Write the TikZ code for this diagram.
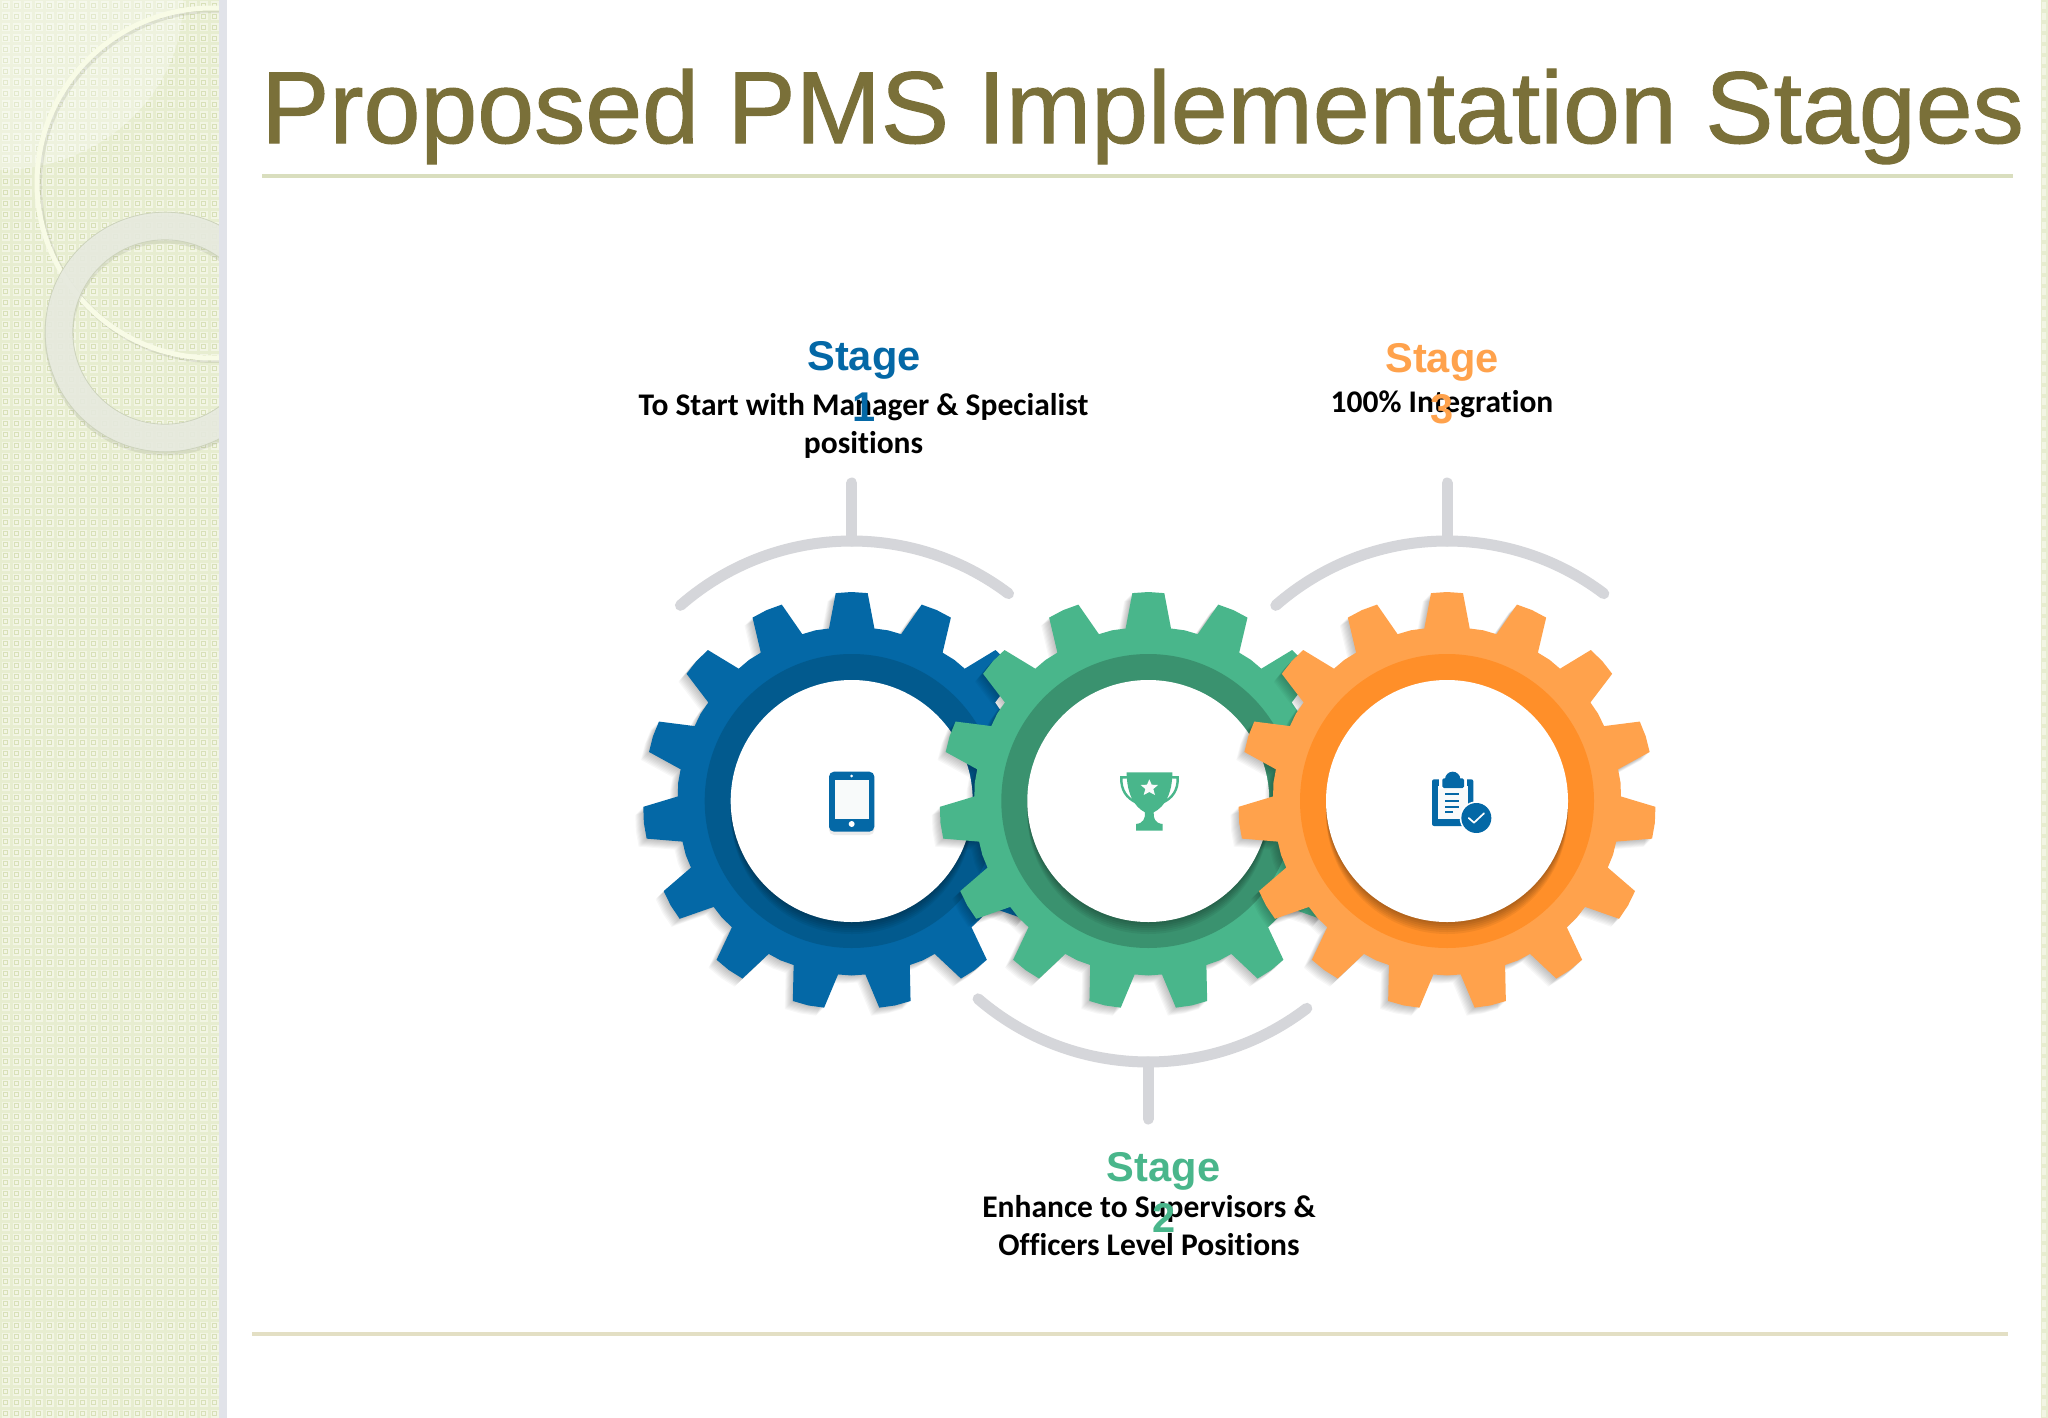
\documentclass[tikz,border=0pt]{standalone}
\usepackage{fontspec}
\setmainfont{Liberation Sans}
\newfontfamily\descfont[Ligatures=NoCommon]{Carlito}
\newfontfamily\titlefont[FakeBold=1]{Liberation Sans}
\usetikzlibrary{calc}
\definecolor{bluegear}{HTML}{0468A6}
\definecolor{bluering}{HTML}{025A8E}
\definecolor{greengear}{HTML}{49B68B}
\definecolor{greenring}{HTML}{3A926F}
\definecolor{orangegear}{HTML}{FFA24C}
\definecolor{orangering}{HTML}{FF8F29}
\definecolor{armgrey}{HTML}{D5D6DA}
\definecolor{titlecol}{HTML}{7A7039}
\definecolor{panelbase}{HTML}{E7EDD0}
\definecolor{panellight}{HTML}{F2F5E4}
\definecolor{paneldark}{HTML}{D8E0B8}
\definecolor{palering}{HTML}{F8FBE6}
\definecolor{greyring}{HTML}{E8EBE0}
\definecolor{greyedge}{HTML}{CDD3BC}
\definecolor{stripgrey}{HTML}{E1E3E9}
\definecolor{ruleA}{HTML}{D9DEBE}
\definecolor{ruleB}{HTML}{E3DFC4}
\definecolor{paper}{HTML}{F8FAFA}
\tikzset{
  arm/.style={draw=armgrey,line width=11pt,line cap=round},
  stagelabel/.style={font=\bfseries\fontsize{41.6}{51}\selectfont,align=center,inner sep=0pt},
  desclabel/.style={font=\descfont\bfseries\fontsize{31.5}{38}\selectfont,align=center,inner sep=0pt,text=black},
  titletext/.style={font=\titlefont\fontsize{102.3}{110}\selectfont,text=titlecol,inner sep=0pt,anchor=base west},
}
\def\gearshape{(-97.5:174) \foreach \k in {0,...,14} {
  -- ({-90+24*\k-7.5}:174) -- ({-90+24*\k-4.4}:208.5) -- ({-90+24*\k}:209) -- ({-90+24*\k+4.4}:208.5) -- ({-90+24*\k+7.5}:174) -- ({-90+24*\k+12}:174.5)
  } -- cycle}
% #1 centre, #2 body colour, #3 ring colour
\newcommand\drawgear[3]{%
  \foreach \d in {1,2,3,4,5,6,7,8}{\fill[black,opacity=.03,shift={($(#1)+(-\d,\d)$)}] \gearshape;}
  \fill[#2,shift={(#1)}] \gearshape;
  \fill[#3] (#1) circle (147);
  \begin{scope}
    \clip (#1) circle (147);
    \foreach \d in {2,4,6,8,10,12}{\fill[black,opacity=.055] ($(#1)+(0,\d)$) circle (121);}
  \end{scope}
  \fill[white] (#1) circle (121);
}
\begin{document}
\begin{tikzpicture}[x=1pt,y=-1pt]
\useasboundingbox (0,0) rectangle (2048,1418);
\fill[white] (0,0) rectangle (2048,1418);
% left panel
\fill[panelbase] (0,0) rectangle (219,1418);
\begin{scope}
  \clip (0,0) rectangle (219,1418);
  \foreach \i in {0,...,20}{\foreach \j in {0,...,129}{
    \fill[panellight] ({\i*11+1.5},{\j*11+1.5}) rectangle +(8,8);
    \draw[paneldark,line width=1.2pt] ({\i*11+3.5},{\j*11+3.5}) rectangle +(4,4);
  }}
  \fill[white,opacity=.3] (0,0) -- (183,0) arc[start angle=0,end angle=90,x radius=183,y radius=170] -- cycle;
  % pale ring
  \draw[black,opacity=.08,line width=6pt] (214,185) circle (175);
  \draw[palering,line width=5pt] (212,183) circle (175);
  % grey ring
  \draw[black,opacity=.07,line width=29pt] (165,335) circle (106);
  \draw[greyring,opacity=.9,line width=27.5pt] (165,332) circle (106);
  \draw[greyedge,line width=.8pt] (165,332) circle (119.8);
  \draw[greyedge,line width=.8pt] (165,332) circle (92.2);
\end{scope}
\fill[stripgrey] (219,0) rectangle (227,1418);
% right strip
\fill[panelbase] (2041,0) rectangle (2048,1418);
\begin{scope}
  \clip (2041,0) rectangle (2048,1418);
  \foreach \j in {0,...,129}{\fill[panellight] (2042,{\j*11+2}) rectangle +(4,7);}
\end{scope}
% title
\node[titletext] (title) at (261,143) {Proposed PMS Implementation Stages};
\coordinate (ruleAleft) at (262,176);
\coordinate (ruleAright) at (2013,176);
\draw[ruleA,line width=4pt] (ruleAleft) -- (ruleAright);
\coordinate (ruleBleft) at (252,1333.5);
\coordinate (ruleBright) at (2008,1333.5);
\draw[ruleB,line width=4pt] (ruleBleft) -- (ruleBright);
% centres
\coordinate (gb) at (851.7,801);
\coordinate (gg) at (1148.3,801);
\coordinate (go) at (1447,801);
% arms
\draw[arm] ($(gb)+(-131.2:260)$) arc[start angle=-131.2,end angle=-52.9,radius=260];
\coordinate (stemb) at (851.7,483);
\coordinate (stembfoot) at (851.7,541);
\draw[arm] (stemb) -- (stembfoot);
\draw[arm] ($(go)+(-131.2:260)$) arc[start angle=-131.2,end angle=-52.9,radius=260];
\coordinate (stemo) at (1447,483);
\coordinate (stemofoot) at (1447,541);
\draw[arm] (stemo) -- (stemofoot);
\draw[arm] ($(gg)+(130.7:261)$) arc[start angle=130.7,end angle=52.6,radius=261];
\coordinate (stemg) at (1148.3,1119);
\coordinate (stemgfoot) at (1148.3,1062);
\draw[arm] (stemg) -- (stemgfoot);
% gears
\drawgear{gb}{bluegear}{bluering}
\drawgear{gg}{greengear}{greenring}
\drawgear{go}{orangegear}{orangering}
% tablet icon
\begin{scope}[shift={(780,740)},scale=1/3]
  \fill[black,opacity=.08,rounded corners=5pt] (147,103) rectangle (283,285);
  \fill[bluegear,rounded corners=5pt] (147,95) rectangle (283,275);
  \fill[paper] (165,120) rectangle (267,238);
  \fill[white] (215,108) circle (4.5);
  \fill[white] (215,252) circle (9);
\end{scope}
% trophy icon
\begin{scope}[shift={(1100,750)},scale=1/3]
  \draw[greengear,line width=2.4pt,line cap=round] (80,82) -- (64,82) .. controls (62,120) and (80,145) .. (110,158);
  \draw[greengear,line width=2.4pt,line cap=round] (217,82) -- (233,82) .. controls (235,120) and (217,145) .. (187,158);
  \fill[greengear] (80,67) -- (217,67) .. controls (217,130) and (195,170) .. (161,187)
     .. controls (160,205) and (165,220) .. (188,222) -- (188,242) -- (108,242) -- (108,222)
     .. controls (130,220) and (136,205) .. (135,187) .. controls (102,170) and (80,130) .. (80,67) -- cycle;
  \fill[paper] (148,88) -- (155,104) -- (174,105) -- (160,117) -- (165,135) -- (148,126) -- (131,135) -- (136,117) -- (122,105) -- (141,104) -- cycle;
\end{scope}
% clipboard icon
\begin{scope}[shift={(1400,750)},scale=1/3]
  \fill[bluegear,rounded corners=2pt] (96,88) rectangle (220,228);
  \fill[paper] (113,108) rectangle (205,208);
  \fill[white] (118,82) rectangle (200,118);
  \fill[bluegear,rounded corners=1.5pt] (127,85) rectangle (192,114);
  \fill[bluegear] (158,88) circle (23);
  \draw[bluegear,line width=1.7pt] (135,131) -- (178,131);
  \draw[bluegear,line width=1.7pt] (135,152) -- (178,152);
  \draw[bluegear,line width=1.7pt] (135,170) -- (178,170);
  \draw[bluegear,line width=1.7pt] (135,187) -- (160,187);
  \fill[white] (229,204) circle (50);
  \fill[bluegear] (229,204) circle (45);
  \draw[white,line width=1.7pt,line cap=round,line join=round] (206,204) -- (222,218) -- (252,190);
\end{scope}
% labels
\node[desclabel] (d1) at (863.5,425.5) {To Start with Manager \& Specialist\\positions};
\node[stagelabel,text=bluegear] (s1) at (864,381.5) {Stage\\1};
\node[desclabel] (d3) at (1442,404.5) {100\% Integration};
\node[stagelabel,text=orangegear] (s3) at (1442,383.5) {Stage\\3};
\node[desclabel] (d2) at (1149,1226) {Enhance to Supervisors \&\\Officers Level Positions};
\node[stagelabel,text=greengear] (s2) at (1163.6,1192) {Stage\\2};
\end{tikzpicture}
\end{document}
